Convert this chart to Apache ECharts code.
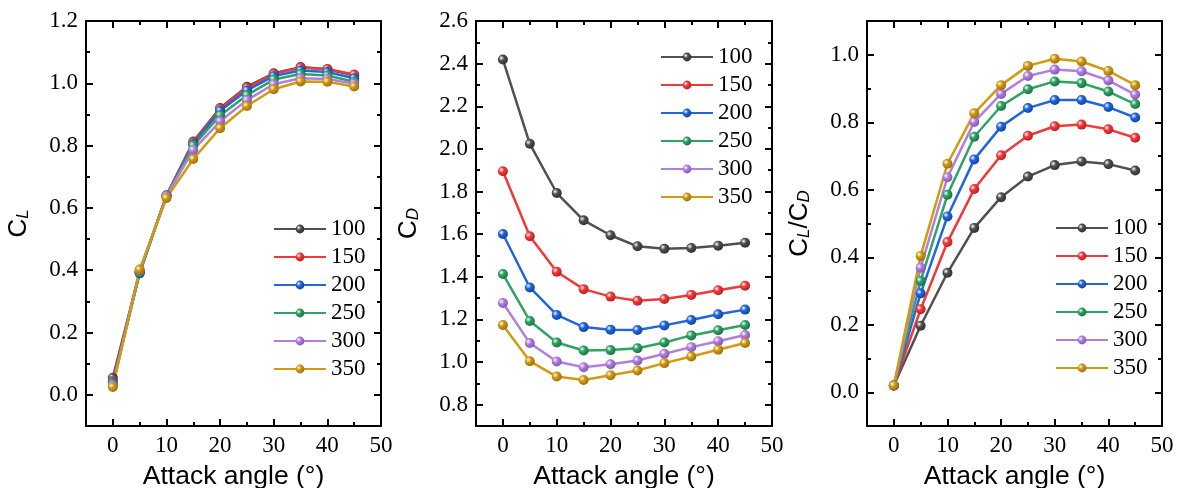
<!DOCTYPE html>
<html><head><meta charset="utf-8">
<script src="https://cdn.jsdelivr.net/npm/echarts@6/dist/echarts.min.js"></script>
<style>html,body{margin:0;padding:0;background:#fff}#c{width:1180px;height:488px}</style>
</head><body><div id="c"></div>
<script>
// ---------- data ----------
const angles = [0, 5, 10, 15, 20, 25, 30, 35, 40, 45];
const speeds = ['100', '150', '200', '250', '300', '350'];

const CL_100 = [0.055, 0.395, 0.640, 0.813, 0.921, 0.989, 1.032, 1.052, 1.045, 1.026];
const CL_150 = [0.045, 0.393, 0.640, 0.810, 0.918, 0.985, 1.030, 1.050, 1.046, 1.028];
const CL_200 = [0.040, 0.390, 0.640, 0.805, 0.912, 0.977, 1.023, 1.041, 1.036, 1.016];
const CL_250 = [0.035, 0.392, 0.638, 0.800, 0.897, 0.962, 1.012, 1.030, 1.025, 1.005];
const CL_300 = [0.030, 0.398, 0.638, 0.786, 0.878, 0.946, 0.997, 1.016, 1.014, 0.999];
const CL_350 = [0.025, 0.402, 0.632, 0.757, 0.856, 0.927, 0.981, 1.006, 1.005, 0.990];

const CD_100 = [2.419, 2.024, 1.793, 1.665, 1.595, 1.543, 1.532, 1.535, 1.546, 1.560];
const CD_150 = [1.895, 1.590, 1.424, 1.342, 1.307, 1.288, 1.296, 1.315, 1.337, 1.358];
const CD_200 = [1.601, 1.350, 1.221, 1.164, 1.152, 1.150, 1.172, 1.197, 1.224, 1.246];
const CD_250 = [1.413, 1.193, 1.092, 1.054, 1.056, 1.065, 1.092, 1.125, 1.149, 1.174];
const CD_300 = [1.277, 1.089, 1.003, 0.976, 0.990, 1.007, 1.039, 1.070, 1.098, 1.127];
const CD_350 = [1.174, 1.004, 0.932, 0.916, 0.938, 0.960, 0.995, 1.026, 1.058, 1.089];

const LD_100 = [0.020, 0.197, 0.354, 0.487, 0.578, 0.639, 0.673, 0.684, 0.676, 0.657];
const LD_150 = [0.020, 0.246, 0.445, 0.602, 0.702, 0.760, 0.788, 0.793, 0.779, 0.754];
const LD_200 = [0.020, 0.293, 0.521, 0.690, 0.787, 0.842, 0.866, 0.866, 0.845, 0.814];
const LD_250 = [0.020, 0.330, 0.585, 0.757, 0.848, 0.898, 0.921, 0.916, 0.891, 0.854];
const LD_300 = [0.020, 0.369, 0.637, 0.801, 0.884, 0.937, 0.956, 0.951, 0.924, 0.882];
const LD_350 = [0.020, 0.404, 0.677, 0.827, 0.910, 0.967, 0.988, 0.980, 0.952, 0.910];

const xTicks = [0, 10, 20, 30, 40, 50];
const xMinor = [5, 15, 25, 35, 45];
const clTicks = [0.0, 0.2, 0.4, 0.6, 0.8, 1.0, 1.2];
const clMinor = [0.1, 0.3, 0.5, 0.7, 0.9, 1.1];
const cdTicks = [0.8, 1.0, 1.2, 1.4, 1.6, 1.8, 2.0, 2.2, 2.4, 2.6];
const cdMinor = [0.9, 1.1, 1.3, 1.5, 1.7, 1.9, 2.1, 2.3, 2.5];
const ldTicks = [0.0, 0.2, 0.4, 0.6, 0.8, 1.0];
const ldMinor = [0.1, 0.3, 0.5, 0.7, 0.9];

// ---------- styling ----------
const colors = ['#505050', '#f03a3a', '#2166dc', '#2ea462', '#b27ee0', '#d19a10'];
const darks  = ['#2a2a2a', '#b01c1c', '#0f3f9a', '#176a3a', '#7b4fae', '#93690a'];
const SERIF = '"Liberation Serif", "Times New Roman", serif';
const SANS = '"Liberation Sans", Arial, sans-serif';
const black = '#000';

const panels = [
  { left: 86,  width: 295, yMin: -0.1, yMax: 1.2, ticks: clTicks, minor: clMinor,
    sets: [CL_100, CL_150, CL_200, CL_250, CL_300, CL_350],
    yName: '{c|C}{s|L}', legend: { left: 273, top: 217 } },
  { left: 476, width: 296, yMin: 0.7, yMax: 2.6, ticks: cdTicks, minor: cdMinor,
    sets: [CD_100, CD_150, CD_200, CD_250, CD_300, CD_350],
    yName: '{c|C}{s|D}', legend: { left: 660, top: 45 } },
  { left: 867, width: 295, yMin: -0.1, yMax: 1.1, ticks: ldTicks, minor: ldMinor,
    sets: [LD_100, LD_150, LD_200, LD_250, LD_300, LD_350],
    yName: '{c|C}{s|L}{c|/C}{s|D}', legend: { left: 1055, top: 216 } }
];

const nameRich = {
  c: { fontFamily: SANS, fontSize: 26, color: black },
  s: { fontFamily: SANS, fontSize: 17, fontStyle: 'italic', color: black, padding: [8, 0, 0, 0] }
};

function majorAxis(gi, pos, min, max, ticks, withLabels, fmt, extra) {
  const ax = {
    type: 'value', gridIndex: gi, position: pos, min: min, max: max,
    axisLine: { show: true, onZero: false, lineStyle: { color: black, width: 2 } },
    axisTick: { show: true, inside: true, length: 7, customValues: ticks.slice(), lineStyle: { color: black, width: 2 } },
    axisLabel: withLabels
      ? { show: true, customValues: ticks.slice(), color: black, fontFamily: SERIF, fontSize: 23, margin: 8, formatter: fmt }
      : { show: false },
    splitLine: { show: false }
  };
  return Object.assign(ax, extra || {});
}
function minorAxis(gi, pos, min, max, ticks) {
  return {
    type: 'value', gridIndex: gi, position: pos, min: min, max: max,
    axisLine: { show: false, onZero: false },
    axisTick: { show: true, inside: true, length: 4, customValues: ticks.slice(), lineStyle: { color: black, width: 2 } },
    axisLabel: { show: false },
    splitLine: { show: false }
  };
}

const grid = [], xAxis = [], yAxis = [], series = [], legend = [];
const fmtX = v => String(v);
const fmtY = v => Number(v).toFixed(1);

panels.forEach((p, gi) => {
  grid.push({ left: p.left, top: 21, width: p.width, height: 405, containLabel: false, outerBoundsMode: 'none' });
  xAxis.push(
    majorAxis(gi, 'bottom', -5, 50, xTicks, true, fmtX, {
      name: 'Attack angle (°)', nameLocation: 'middle', nameGap: 37,
      nameTextStyle: { fontFamily: SANS, fontSize: 26.5, color: black }
    }),
    minorAxis(gi, 'bottom', -5, 50, xMinor),
    majorAxis(gi, 'top', -5, 50, xTicks, false),
    minorAxis(gi, 'top', -5, 50, xMinor)
  );
  yAxis.push(
    majorAxis(gi, 'left', p.yMin, p.yMax, p.ticks, true, fmtY, {
      name: p.yName, nameLocation: 'middle', nameRotate: 90, nameGap: 54,
      nameTextStyle: { rich: nameRich }
    }),
    minorAxis(gi, 'left', p.yMin, p.yMax, p.minor),
    majorAxis(gi, 'right', p.yMin, p.yMax, p.ticks, false),
    minorAxis(gi, 'right', p.yMin, p.yMax, p.minor)
  );
  p.sets.forEach((vals, si) => {
    series.push({
      type: 'line', name: speeds[si], xAxisIndex: gi * 4, yAxisIndex: gi * 4,
      data: angles.map((a, i) => [a, vals[i]]),
      symbol: 'circle', symbolSize: 10, showSymbol: true,
      lineStyle: { color: colors[si], width: 2.5 },
      itemStyle: { color: { type: 'radial', x: 0.35, y: 0.35, r: 0.75,
        colorStops: [{ offset: 0, color: 'rgba(255,255,255,0.9)' }, { offset: 0.35, color: colors[si] }, { offset: 1, color: darks[si] }] },
        borderWidth: 0 },
      emphasis: { disabled: true },
      animation: false
    });
  });
  legend.push({
    left: p.legend.left, top: p.legend.top, orient: 'vertical', padding: 0,
    itemWidth: 52, itemHeight: 11, itemGap: 4, selectedMode: false,
    textStyle: { fontFamily: SERIF, fontSize: 23, lineHeight: 24, color: black },
    data: speeds
  });
});

const chart = echarts.init(document.getElementById('c'), null, { renderer: 'canvas' });
chart.setOption({ backgroundColor: '#fff', animation: false, grid, xAxis, yAxis, series, legend });
</script>
</body></html>
